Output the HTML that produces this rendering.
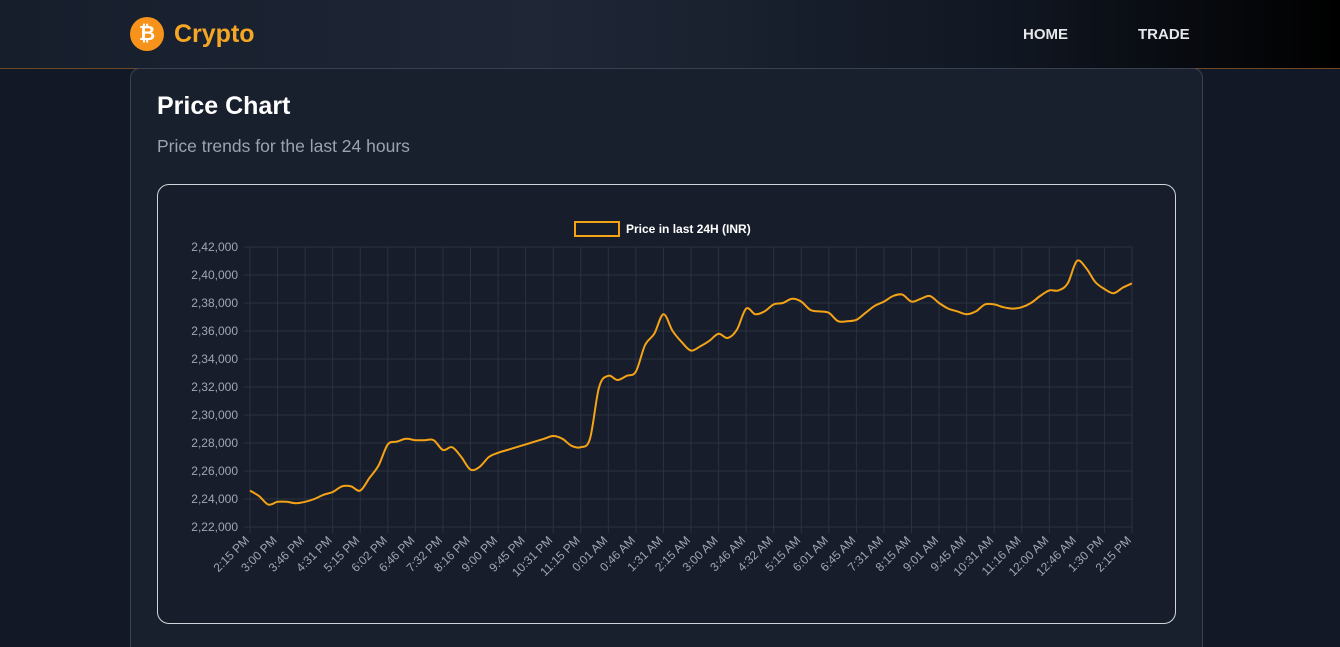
<!DOCTYPE html>
<html><head><meta charset="utf-8"><style>
*{margin:0;padding:0;box-sizing:border-box}
html,body{width:1340px;height:647px;overflow:hidden}
body{background:#121826;font-family:"Liberation Sans",sans-serif;position:relative}
.hdr{position:absolute;left:0;top:0;width:1340px;height:69px;background:linear-gradient(90deg,#161d2b 0%,#1f2737 40%,#111722 75%,#000 100%);border-bottom:1px solid #6b4a2a}
.logo{position:absolute;left:130px;top:17px;width:34px;height:34px;border-radius:50%;background:#f7931a;color:#fff;font-weight:bold;font-size:20px;text-align:center;line-height:34px}
.brand{position:absolute;left:174px;top:20px;font-size:25px;font-weight:bold;color:#f5a623}
.nav{position:absolute;top:26px;font-size:15px;font-weight:bold;color:#e5e7eb}
.card{position:absolute;left:130px;top:68px;width:1073px;height:579px;background:#181f2d;border:1px solid #3a4252;border-bottom:none;border-radius:10px 10px 0 0}
h1{position:absolute;left:157px;top:92px;font-size:25px;color:#fff;font-weight:bold}
.sub{position:absolute;left:157px;top:136px;font-size:17.5px;color:#9ca3af}
.box{position:absolute;left:157px;top:184px;width:1019px;height:440px;border:1px solid #d1d5db;border-radius:12px;background:#171d2b}
svg{position:absolute;left:0;top:0}
</style></head><body>
<div class="hdr"></div>
<div class="logo">₿</div>
<div class="brand">Crypto</div>
<div class="nav" style="left:1023px">HOME</div>
<div class="nav" style="left:1138px">TRADE</div>
<div class="card"></div>
<h1>Price Chart</h1>
<div class="sub">Price trends for the last 24 hours</div>
<div class="box"></div>
<svg id="chart" width="1340" height="647"></svg>
<script>
const xLabels=["2:15 PM","3:00 PM","3:46 PM","4:31 PM","5:15 PM","6:02 PM","6:46 PM","7:32 PM","8:16 PM","9:00 PM","9:45 PM","10:31 PM","11:15 PM","0:01 AM","0:46 AM","1:31 AM","2:15 AM","3:00 AM","3:46 AM","4:32 AM","5:15 AM","6:01 AM","6:45 AM","7:31 AM","8:15 AM","9:01 AM","9:45 AM","10:31 AM","11:16 AM","12:00 AM","12:46 AM","1:30 PM","2:15 PM"];
const yTicks=[222000,224000,226000,228000,230000,232000,234000,236000,238000,240000,242000];
const prices=[224600,224200,223600,223800,223800,223700,223800,224000,224300,224500,224900,224900,224600,225500,226400,227900,228100,228300,228200,228200,228200,227500,227700,227000,226100,226300,227000,227300,227500,227700,227900,228100,228300,228500,228300,227800,227700,228300,232000,232800,232500,232800,233100,235000,235800,237200,236000,235200,234600,234900,235300,235800,235500,236100,237600,237200,237400,237900,238000,238300,238100,237500,237400,237300,236700,236700,236800,237300,237800,238100,238500,238600,238100,238300,238500,238000,237600,237400,237200,237400,237900,237900,237700,237600,237700,238000,238500,238900,238900,239400,241000,240500,239500,239000,238700,239100,239400];
const NS="http://www.w3.org/2000/svg";
const svg=document.getElementById('chart');
const X0=250,X1=1132,Y0=527,Y1=247,VMIN=222000,VMAX=242000;
const xAxis=f=>X0+f*(X1-X0);
const yAxis=v=>Y0-(v-VMIN)/(VMAX-VMIN)*(Y0-Y1);
function mk(t,a){const e=document.createElementNS(NS,t);for(const k in a)e.setAttribute(k,a[k]);svg.appendChild(e);return e;}
yTicks.forEach(v=>{
  const y=yAxis(v);
  const g=mk('line',{x1:X0-6,x2:X1,y1:y,y2:y,stroke:'#2a3242','stroke-width':1});
  
  
  const t=mk('text',{x:238,y:y+4,'text-anchor':'end','font-size':12,fill:'#a0a6b2','font-family':'Liberation Sans, sans-serif'});
  t.textContent=v.toLocaleString('en-IN');
  
  
});
xLabels.forEach((l,i)=>{
  const x=xAxis(i/(xLabels.length-1));
  const g=mk('line',{x1:x,x2:x,y1:Y1,y2:Y0+6,stroke:'#2a3242','stroke-width':1});
  
  
  const t=mk('text',{x:x,y:Y0+14,'text-anchor':'end','font-size':12,fill:'#a0a6b2','font-family':'Liberation Sans, sans-serif',transform:`rotate(-45 ${x} ${Y0+14})`});
  t.textContent=l;
  
  
});
const pts=prices.map((v,i)=>[xAxis(i/(prices.length-1)),yAxis(v)]);
let d=`M${pts[0][0]},${pts[0][1]}`;
for(let i=0;i<pts.length-1;i++){
  const p0=pts[Math.max(0,i-1)],p1=pts[i],p2=pts[i+1],p3=pts[Math.min(pts.length-1,i+2)];
  const c1=[p1[0]+(p2[0]-p0[0])/6,p1[1]+(p2[1]-p0[1])/6],c2=[p2[0]-(p3[0]-p1[0])/6,p2[1]-(p3[1]-p1[1])/6];
  d+=` C${c1[0]},${c1[1]} ${c2[0]},${c2[1]} ${p2[0]},${p2[1]}`;
}
const line=mk('path',{d:d,fill:'none',stroke:'#f5a316','stroke-width':2});


const lb=mk('rect',{x:575,y:222,width:44,height:14,fill:'none',stroke:'#f5a316','stroke-width':2});


const lt=mk('text',{x:626,y:233,'font-size':12,'font-weight':'bold',fill:'#fff','font-family':'Liberation Sans, sans-serif'});
lt.textContent='Price in last 24H (INR)';


</script>
</body></html>
